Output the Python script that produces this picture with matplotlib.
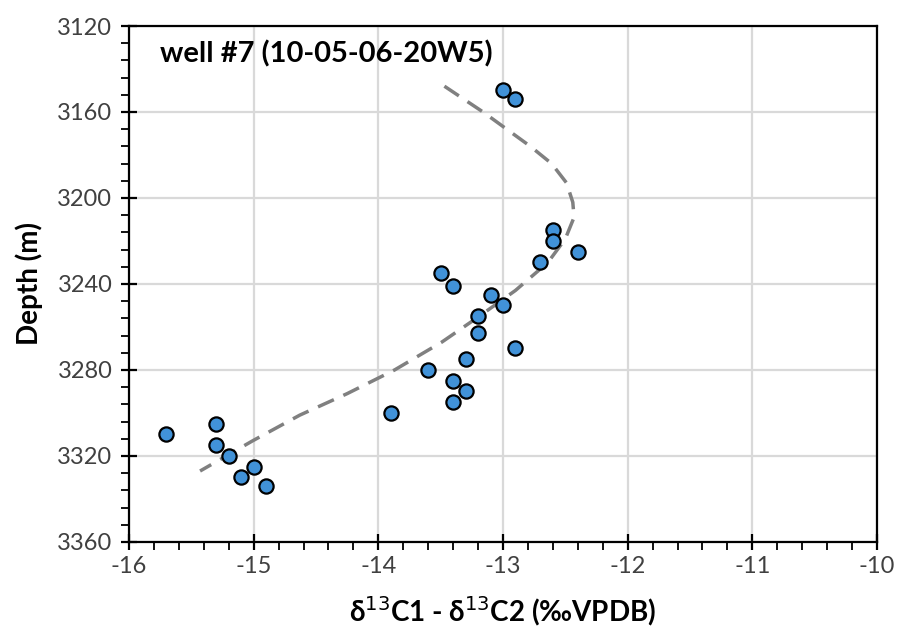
import matplotlib.pyplot as plt
from matplotlib.ticker import MultipleLocator

plt.rcParams['font.family'] = ['Lato', 'DejaVu Sans']
plt.rcParams['axes.unicode_minus'] = False

# measured values
d13c_diff = [-13.0, -12.9, -12.6, -12.6, -12.4, -12.7, -13.5, -13.4, -13.1, -13.0,
             -13.2, -13.2, -12.9, -13.3, -13.6, -13.4, -13.3, -13.4, -13.9, -15.7,
             -15.3, -15.3, -15.2, -15.0, -15.1, -14.9]
depth_m = [3150, 3154, 3215, 3220, 3225, 3230, 3235, 3241, 3245, 3250,
           3255, 3263, 3270, 3275, 3280, 3285, 3290, 3295, 3300, 3310,
           3305, 3315, 3320, 3325, 3330, 3334]

# trend line
trend_x = [-13.47, -13.16, -12.97, -12.78, -12.61, -12.49, -12.44, -12.43, -12.50,
           -12.64, -12.90, -13.19, -13.49, -13.87, -14.25, -14.63, -15.01, -15.43]
trend_depth = [3148, 3160, 3168, 3176, 3184, 3193, 3202, 3209, 3219,
               3230, 3243, 3255, 3267, 3280, 3291, 3301, 3313, 3327]

fig = plt.figure(figsize=(8.99, 6.42), dpi=100)
ax = fig.add_axes([0.1435, 0.1558, 0.832, 0.8037])

ax.plot(trend_x, trend_depth, color="#808080", linestyle=(0, (5, 3)),
        linewidth=2.5, zorder=2)
ax.scatter(d13c_diff, depth_m, s=105, color="#4192d8", edgecolor="black",
           linewidth=1.6, zorder=3)

ax.set_xlim(-16, -10)
ax.set_ylim(3360, 3120)
ax.xaxis.set_major_locator(MultipleLocator(1))
ax.xaxis.set_minor_locator(MultipleLocator(0.2))
ax.yaxis.set_major_locator(MultipleLocator(40))
ax.yaxis.set_minor_locator(MultipleLocator(8))
ax.grid(True, which="major", color="#d9d9d9", linewidth=1.6, zorder=0)
ax.set_axisbelow(True)
for s in ax.spines.values():
    s.set_linewidth(1.6)
ax.tick_params(which="major", direction="inout", length=12, width=1.6,
               labelsize=17, colors="black", labelcolor="#404040")
ax.tick_params(which="minor", direction="out", length=6, width=1.3)
ax.tick_params(axis="x", which="major", pad=4)
ax.tick_params(axis="y", which="major", pad=6)

ax.set_xlabel("δ$^{13}$C1 - δ$^{13}$C2 (‰VPDB)", fontsize=20,
              fontweight="bold", labelpad=12)
ax.set_ylabel("Depth (m)", fontsize=20, fontweight="bold", labelpad=10)
ax.text(0.0414, 0.930, "well #7 (10-05-06-20W5)", transform=ax.transAxes,
        fontsize=21, fontweight="bold", va="baseline", ha="left")

fig.savefig("out.png", dpi=100)
